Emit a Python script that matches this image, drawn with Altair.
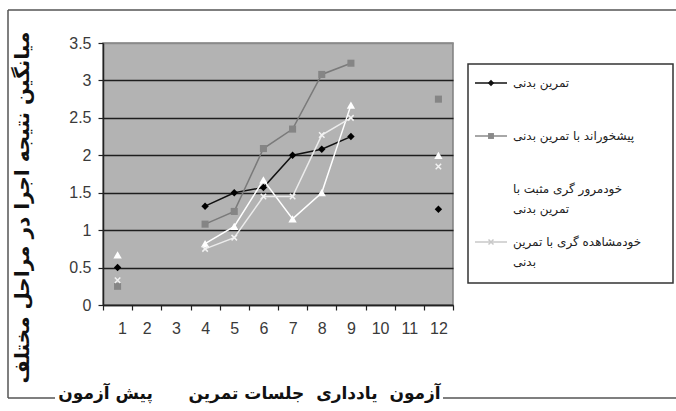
import altair as alt
import pandas as pd

# ---------------- data ----------------
sessions = [1, 2, 3, 4, 5, 6, 7, 8, 9, 10, 11, 12]
phases = ["pre", None, None, "train", "train", "train", "train", "train", "train", None, None, "post"]

series_names = [
    "تمرین بدنی",
    "پیشخوراند با تمرین بدنی",
    "خودمرور گری مثبت با تمرین بدنی",
    "خودمشاهده گری با تمرین بدنی",
]
legend_line1 = ["تمرین بدنی", "پیشخوراند با تمرین بدنی", "خودمرور گری مثبت با", "خودمشاهده گری با تمرین"]
legend_line2 = ["", "", "تمرین بدنی", "بدنی"]

s1 = [0.50, None, None, 1.32, 1.50, 1.57, 2.00, 2.08, 2.25, None, None, 1.28]
s2 = [0.25, None, None, 1.08, 1.25, 2.09, 2.35, 3.08, 3.23, None, None, 2.75]
s3 = [0.67, None, None, 0.82, 1.05, 1.67, 1.15, 1.50, 2.67, None, None, 2.00]
s4 = [0.33, None, None, 0.75, 0.90, 1.45, 1.45, 2.27, 2.50, None, None, 1.85]

y_title = "میانگین نتیجه اجرا در مراحل مختلف"
x_title = "آزمون\u00a0\u00a0یادداری" + "\u00a0" * 2 + "جلسات تمرین" + "\u00a0" * 6 + "پیش آزمون"

# ---------------- styles ----------------
line_colors = ["#111111", "#7a7a7a", "#ffffff", "#ececec"]
marker_colors = ["#000000", "#858585", "#ffffff", "#f2f2f2"]
legend_colors = ["#111111", "#8a8a8a", "#ffffff", "#c8c8c8"]
marker_shapes = ["diamond", "square", "triangle-up", "M-1,-1L1,1M-1,1L1,-1"]
marker_filled = [True, True, True, False]
marker_sizes = [55, 50, 70, 30]

rows = []
for name, vals in zip(series_names, [s1, s2, s3, s4]):
    for s, ph, v in zip(sessions, phases, vals):
        if v is None:
            continue
        rows.append({"session": s, "phase": ph, "series": name, "value": v})
df = pd.DataFrame(rows)

leg_df = pd.DataFrame({
    "series": series_names,
    "row": list(range(len(series_names))),
    "line1": legend_line1,
    "line2": legend_line2,
})

W, H = 350, 262
persian_font = "DejaVu Sans"
num_font = "Liberation Sans"

x_enc = alt.X(
    "session:Q",
    scale=alt.Scale(domain=[0.5, 12.5], nice=False, zero=False),
    axis=alt.Axis(
        values=[i + 0.5 for i in range(13)],
        labelExpr="datum.value < 12 ? '' + (datum.value + 0.5) : ''",
        labelOffset=W / 24,
        labelFont=num_font, labelFontSize=16, labelColor="#3a3a3a",
        labelPadding=10,
        grid=False, domainColor="#222222", domainWidth=1.5,
        tickColor="#222222", tickSize=5, tickWidth=1.2,
        title=x_title,
        titleFont=persian_font, titleFontSize=17, titleFontWeight="bold",
        titleColor="#111111", titleX=146, titleY=88, titleBaseline="middle",
        titleAlign="center",
    ),
)
y_enc = alt.Y(
    "value:Q",
    scale=alt.Scale(domain=[0, 3.5], nice=False),
    axis=alt.Axis(
        values=[0, 0.5, 1, 1.5, 2, 2.5, 3, 3.5],
        labelExpr="'' + datum.value",
        labelFont=num_font, labelFontSize=16, labelColor="#3a3a3a",
        labelPadding=7,
        grid=True, gridWidth=1.5,
        gridColor={"condition": {"test": "datum.value >= 3.5", "value": "#8a8a8a"}, "value": "#1e1e1e"},
        domainColor="#222222", domainWidth=1.5,
        tickColor="#222222", tickSize=5, tickWidth=1.2,
        title=y_title,
        titleFont=persian_font, titleFontSize=20, titleFontWeight="bold",
        titleColor="#111111", titleX=-81, titleY=164, titleBaseline="middle",
        titleAlign="center",
    ),
)

base = alt.Chart(df)

lines = base.mark_line(strokeWidth=1.5).encode(
    x=x_enc, y=y_enc,
    color=alt.Color("series:N", scale=alt.Scale(domain=series_names, range=line_colors), legend=None),
    detail="phase:N",
    order="session:Q",
)

point_layers = []
for i, name in enumerate(series_names):
    if marker_filled[i]:
        mk = dict(filled=True, color=marker_colors[i])
    else:
        mk = dict(filled=False, color=marker_colors[i], strokeWidth=1.5)
    point_layers.append(
        base.transform_filter(alt.datum.series == name)
        .mark_point(shape=marker_shapes[i], size=marker_sizes[i], opacity=1, **mk)
        .encode(x=x_enc, y=y_enc)
    )

# decorative outer frame
deco = alt.Data(values=[{"k": 0}])
frame_col = "#555555"
frame_top = alt.Chart(deco).mark_rule(color=frame_col, strokeWidth=1.5).encode(
    x=alt.value(-95), x2=alt.value(580), y=alt.value(-33))
frame_left = alt.Chart(deco).mark_rule(color=frame_col, strokeWidth=1.5).encode(
    x=alt.value(-95), y=alt.value(-33), y2=alt.value(355))
frame_bl = alt.Chart(deco).mark_rule(color=frame_col, strokeWidth=1.5).encode(
    x=alt.value(-95), x2=alt.value(-48), y=alt.value(355))
frame_br = alt.Chart(deco).mark_rule(color=frame_col, strokeWidth=1.5).encode(
    x=alt.value(340), x2=alt.value(580), y=alt.value(355))

main = alt.layer(frame_top, frame_left, frame_bl, frame_br, lines, *point_layers)

# ---------------- hand-built legend ----------------
leg_y = alt.Y("row:Q", scale=alt.Scale(domain=[0, 3], range=[40, 199], nice=False, zero=False), axis=None)
leg_base = alt.Chart(leg_df)

legend_box = alt.Chart(deco).mark_rect(fill="white", stroke="#333333", strokeWidth=1.5).encode(
    x=alt.value(365), x2=alt.value(570), y=alt.value(21), y2=alt.value(240))

key_lines = leg_base.mark_rule(strokeWidth=1.5).encode(
    x=alt.value(372), x2=alt.value(404), y=leg_y,
    stroke=alt.Stroke("series:N", scale=alt.Scale(domain=series_names, range=legend_colors), legend=None),
)
key_points = []
for i, name in enumerate(series_names):
    if marker_filled[i]:
        mk = dict(filled=True, color=legend_colors[i])
    else:
        mk = dict(filled=False, color=legend_colors[i], strokeWidth=1.5)
    key_points.append(
        leg_base.transform_filter(alt.datum.series == name)
        .mark_point(shape=marker_shapes[i], size=max(marker_sizes[i] - 15, 25), opacity=1, **mk)
        .encode(x=alt.value(388), y=leg_y)
    )
text1 = leg_base.mark_text(
    align="left", baseline="middle", font=persian_font, fontSize=12, color="#222222"
).encode(x=alt.value(410), y=leg_y, text="line1:N")
text2 = leg_base.transform_filter(alt.datum.line2 != "").mark_text(
    align="left", baseline="middle", font=persian_font, fontSize=12, color="#222222", dy=20
).encode(x=alt.value(410), y=leg_y, text="line2:N")

legend = alt.layer(legend_box, key_lines, *key_points, text1, text2)

chart = alt.layer(main, legend).resolve_scale(y="independent").properties(
    width=W, height=H,
    autosize="none",
    padding={"left": 103, "top": 43, "right": 223, "bottom": 106},
    background="white",
).configure_view(
    fill="#b3b3b3", stroke="#808080", strokeWidth=1.5,
)

chart.save("out.html", embed_options={"renderer": "svg", "actions": False})
